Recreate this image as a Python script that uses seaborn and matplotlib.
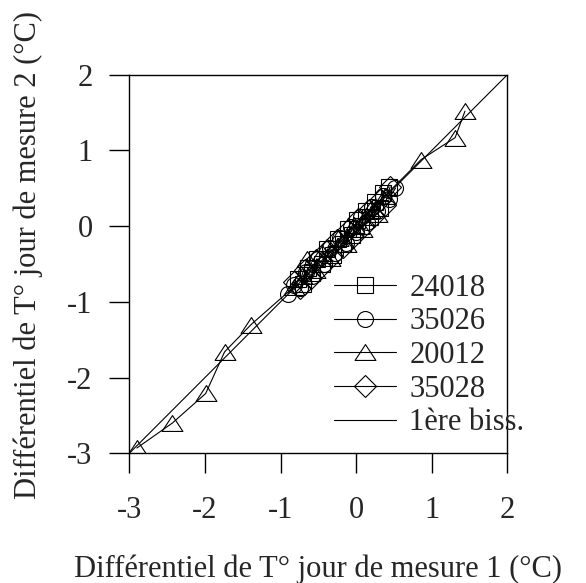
import matplotlib
matplotlib.use("Agg")
import matplotlib.pyplot as plt
import seaborn as sns
import numpy as np
from matplotlib.path import Path

# ---- data ----
s24018_x = [-0.77, -0.70, -0.64, -0.58, -0.52, -0.45, -0.38, -0.31, -0.24, -0.18, -0.11, -0.05, 0.01, 0.07, 0.13, 0.19, 0.25, 0.31, 0.36, 0.43]
s24018_y = [-0.70, -0.76, -0.55, -0.62, -0.43, -0.50, -0.30, -0.38, -0.17, -0.24, -0.04, -0.12, 0.08, 0.00, 0.20, 0.12, 0.32, 0.24, 0.44, 0.52]

s35026_x = [-0.90, -0.82, -0.74, -0.66, -0.58, -0.50, -0.42, -0.35, -0.28, -0.21, -0.14, -0.07, 0.00, 0.07, 0.14, 0.21, 0.28, 0.35, 0.43, 0.52]
s35026_y = [-0.89, -0.78, -0.82, -0.60, -0.66, -0.44, -0.50, -0.29, -0.36, -0.15, -0.22, -0.01, -0.08, 0.12, 0.06, 0.26, 0.20, 0.40, 0.36, 0.50]

s20012_x = [-2.90, -2.43, -1.99, -1.74, -1.39, -0.82, -0.72, -0.65, -0.55, -0.45, -0.35, -0.24, -0.14, -0.03, 0.08, 0.18, 0.28, 0.38, 0.86, 1.31, 1.44]
s20012_y = [-2.93, -2.60, -2.21, -1.66, -1.30, -0.80, -0.66, -0.43, -0.58, -0.36, -0.42, -0.16, -0.24, 0.02, -0.04, 0.22, 0.16, 0.40, 0.88, 1.17, 1.52]

s35028_x = [-0.82, -0.74, -0.67, -0.60, -0.53, -0.46, -0.39, -0.32, -0.25, -0.18, -0.11, -0.04, 0.03, 0.10, 0.17, 0.24, 0.31, 0.38, 0.45]
s35028_y = [-0.74, -0.82, -0.58, -0.68, -0.45, -0.54, -0.32, -0.40, -0.18, -0.27, -0.05, -0.14, 0.10, 0.00, 0.22, 0.14, 0.34, 0.28, 0.52]

biss_x = [-3, 2]
biss_y = [-3, 2]

ticks = [-3, -2, -1, 0, 1, 2]
tick_labels = ["-3", "-2", "-1", "0", "1", "2"]

xlabel = "Différentiel de T° jour de mesure 1 (°C)"
ylabel = "Différentiel de T° jour de mesure 2 (°C)"

# ---- style ----
sns.set_style("white")
plt.rcParams["font.family"] = ["Liberation Serif", "DejaVu Serif"]

FS = 22

fig = plt.figure(figsize=(5.86, 5.83), dpi=100)
ax = fig.add_axes([0.2207, 0.2225, 0.645, 0.6492])

tri = Path([(-1.05, -0.8), (1.05, -0.8), (0.0, 0.8), (-1.05, -0.8)],
           [Path.MOVETO, Path.LINETO, Path.LINETO, Path.CLOSEPOLY])

common = dict(color="black", linewidth=0.8, sort=False, estimator=None,
              markerfacecolor="none", markeredgecolor="black", markeredgewidth=0.8, ax=ax)

sns.lineplot(x=s24018_x, y=s24018_y, marker="s", markersize=11.5, label="24018", **common)
sns.lineplot(x=s35026_x, y=s35026_y, marker="o", markersize=11.5, label="35026", **common)
sns.lineplot(x=s20012_x, y=s20012_y, marker=tri, markersize=15, label="20012", **common)
sns.lineplot(x=s35028_x, y=s35028_y, marker="D", markersize=11.5, label="35028", **common)
sns.lineplot(x=biss_x, y=biss_y, color="black", linewidth=0.8, sort=False, estimator=None,
             label="1ère biss.", ax=ax)

ax.set_xlim(-3, 2)
ax.set_ylim(-3, 2)
ax.set_xticks(ticks)
ax.set_xticklabels(tick_labels)
ax.set_yticks(ticks)
ax.set_yticklabels(tick_labels)

for s in ax.spines.values():
    s.set_visible(True)
    s.set_color("black")
    s.set_linewidth(1.0)

ax.tick_params(axis="x", direction="out", length=14.4, width=1.0, color="black",
               labelsize=FS, pad=16, bottom=True, top=False)
ax.tick_params(axis="y", direction="out", length=14.4, width=1.0, color="black",
               labelsize=FS, pad=12, left=True, right=False)

ax.set_xlabel(xlabel, fontsize=FS)
ax.set_ylabel(ylabel, fontsize=FS)
ax.xaxis.set_label_coords(0.5, -0.268)
ax.yaxis.set_label_coords(-0.228, 0.524)

ax.legend(loc="upper left", bbox_to_anchor=(0.5415, 0.475), frameon=False,
          fontsize=FS, borderpad=0, borderaxespad=0, handlelength=2.03,
          handletextpad=0.43, labelspacing=0.155)

fig.savefig("out.png", dpi=100, facecolor="white")
